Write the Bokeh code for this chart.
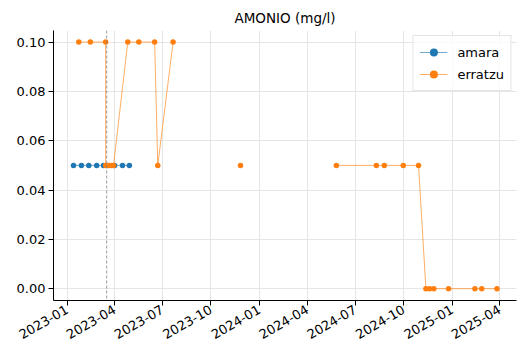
import numpy as np
import pandas as pd
from math import pi
from bokeh.plotting import figure
from bokeh.models import FixedTicker, DatetimeTickFormatter, NumeralTickFormatter, Span, Range1d, Legend
from bokeh.embed import file_html
from bokeh.resources import INLINE

# ---- data ----
amara_dates = ["2023-01-13", "2023-01-28", "2023-02-11", "2023-02-26", "2023-03-11",
               "2023-04-01", "2023-04-16", "2023-04-29"]
amara_values = [0.05, 0.05, 0.05, 0.05, 0.05, 0.05, 0.05, 0.05]

erratzu_dates = ["2023-01-23", "2023-02-14", "2023-03-15", "2023-03-15", "2023-03-19",
                 "2023-03-22", "2023-03-26", "2023-03-30", "2023-04-26", "2023-05-17",
                 "2023-06-16", "2023-06-22", "2023-07-21", "2023-09-20", "2023-11-26",
                 "2024-03-01", "2024-05-26", "2024-08-10", "2024-08-25", "2024-09-30",
                 "2024-10-29", "2024-11-12", "2024-11-19", "2024-11-27", "2024-12-25",
                 "2025-02-13", "2025-02-26", "2025-03-27"]
erratzu_values = [0.1, 0.1, 0.1, 0.05, 0.05,
                  0.05, 0.05, 0.05, 0.1, 0.1,
                  0.1, 0.05, 0.1, np.nan, 0.05,
                  np.nan, 0.05, 0.05, 0.05, 0.05,
                  0.05, 0.0, 0.0, 0.0, 0.0,
                  0.0, 0.0, 0.0]

marker_date = "2023-03-17"
x_tick_labels = ["2023-01", "2023-04", "2023-07", "2023-10", "2024-01",
                 "2024-04", "2024-07", "2024-10", "2025-01", "2025-04"]
y_ticks = [0.0, 0.02, 0.04, 0.06, 0.08, 0.10]
title = "AMONIO (mg/l)"

FONT = "DejaVu Sans"

def ms(d):
    return pd.Timestamp(d).value / 1e6

a_x = pd.to_datetime(amara_dates)
e_x = pd.to_datetime(erratzu_dates)

p = figure(width=527, height=361, x_axis_type="datetime", output_backend="svg",
           toolbar_location=None, title=title,
           x_range=Range1d(ms("2022-12-06"), ms("2025-05-03")),
           y_range=Range1d(-0.0048, 0.1047),
           min_border_left=53, min_border_right=11, min_border_top=30, min_border_bottom=61)

p.title.align = "center"
p.title.text_font = FONT
p.title.text_font_size = "13.5px"
p.title.text_font_style = "normal"
p.title.text_color = "black"
p.title.standoff = 10

blue = "#1f77b4"
orange = "#ff7f0e"

l1 = p.line(a_x, amara_values, line_color=blue, line_width=0.8, line_alpha=0.8)
s1 = p.scatter(a_x, amara_values, size=5.5, fill_color=blue, line_color=None)
l2 = p.line(e_x, erratzu_values, line_color=orange, line_width=0.8, line_alpha=0.8)
s2 = p.scatter(e_x, erratzu_values, size=5.5, fill_color=orange, line_color=None)

span = Span(location=ms(marker_date), dimension="height", line_color="#808080",
            line_dash="3 2", line_width=0.8)
p.add_layout(span)

legend = Legend(items=[("amara", [l1, s1]), ("erratzu", [l2, s2])], location="top_right")
legend.label_text_font = FONT
legend.label_text_font_size = "13px"
legend.label_text_color = "black"
legend.border_line_color = "#cccccc"
legend.border_line_width = 1
legend.background_fill_alpha = 0.8
legend.glyph_width = 28
legend.glyph_height = 20
legend.label_height = 20
legend.spacing = 2
legend.padding = 6
legend.margin = 5
legend.label_standoff = 10
p.add_layout(legend)

# axes
p.xaxis.ticker = FixedTicker(ticks=[ms(t + "-01") for t in x_tick_labels])
p.xaxis.formatter = DatetimeTickFormatter(months="%Y-%m", days="%Y-%m", years="%Y-%m")
p.xaxis.major_label_orientation = pi / 6
p.yaxis.ticker = FixedTicker(ticks=y_ticks)
p.yaxis.formatter = NumeralTickFormatter(format="0.00")

for ax in (p.xaxis, p.yaxis):
    ax.major_label_text_font = FONT
    ax.major_label_text_font_size = "13px"
    ax.major_label_text_color = "black"
    ax.axis_line_color = "black"
    ax.axis_line_width = 1
    ax.major_tick_line_color = "black"
    ax.major_tick_out = 5
    ax.major_tick_in = 0
    ax.minor_tick_line_color = None
    ax.major_label_standoff = 3

p.outline_line_color = None
p.grid.grid_line_color = "#e5e5e5"
p.grid.grid_line_width = 1

open("out.html", "w").write(file_html(p, INLINE))
